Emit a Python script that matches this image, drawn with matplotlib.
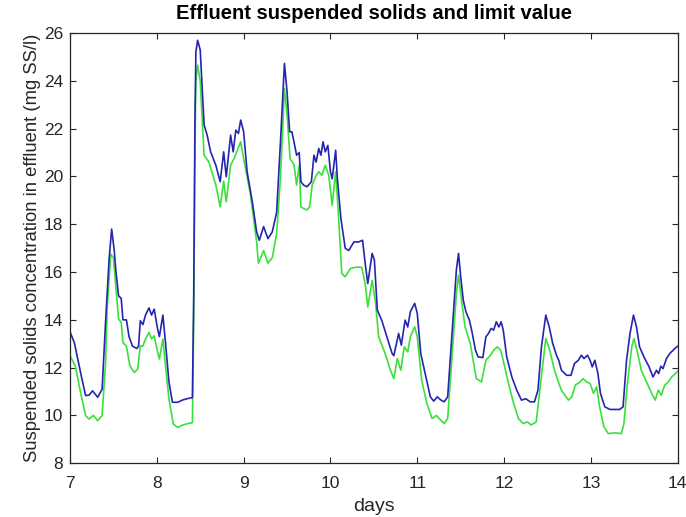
import matplotlib.pyplot as plt

# effluent suspended solids (blue) - days / mg SS/l
blue_days = [7.00, 7.05, 7.13, 7.18, 7.22, 7.26, 7.32, 7.37, 7.41, 7.45, 7.48, 7.51, 7.53, 7.56, 7.59,
             7.61, 7.65, 7.68, 7.72, 7.77, 7.79, 7.81, 7.84, 7.87, 7.91, 7.94, 7.97, 8.01, 8.03, 8.07,
             8.10, 8.14, 8.18, 8.24, 8.30, 8.35, 8.41, 8.425, 8.44, 8.45, 8.47, 8.50, 8.525, 8.545, 8.58,
             8.62, 8.68, 8.73, 8.77, 8.80, 8.85, 8.88, 8.91, 8.94, 8.966, 9.00, 9.04, 9.10, 9.15, 9.18,
             9.23, 9.28, 9.33, 9.38, 9.425, 9.47, 9.50, 9.53, 9.556, 9.58, 9.61, 9.64, 9.66, 9.69, 9.73,
             9.78, 9.81, 9.835, 9.865, 9.89, 9.915, 9.94, 9.97, 10.00, 10.02, 10.06, 10.08, 10.12, 10.17, 10.21,
             10.27, 10.325, 10.37, 10.40, 10.43, 10.48, 10.506, 10.54, 10.59, 10.65, 10.71, 10.73, 10.785, 10.816, 10.86,
             10.89, 10.92, 10.97, 11.00, 11.04, 11.09, 11.15, 11.19, 11.23, 11.27, 11.31, 11.35, 11.40, 11.45, 11.475,
             11.50, 11.53, 11.56, 11.60, 11.63, 11.67, 11.70, 11.755, 11.79, 11.82, 11.85, 11.88, 11.91, 11.94, 11.966,
             11.99, 12.03, 12.09, 12.145, 12.20, 12.25, 12.30, 12.35, 12.39, 12.43, 12.48, 12.52, 12.56, 12.605, 12.63,
             12.66, 12.72, 12.77, 12.81, 12.855, 12.89, 12.92, 12.96, 12.99, 13.015, 13.045, 13.08, 13.11, 13.16, 13.22,
             13.276, 13.33, 13.37, 13.41, 13.45, 13.49, 13.525, 13.56, 13.61, 13.67, 13.715, 13.755, 13.78, 13.805, 13.83,
             13.87, 13.91, 13.966, 14.00]
blue_ss = [13.5, 13.05, 11.66, 10.83, 10.85, 11.03, 10.76, 11.1, 13.9, 16.5, 17.8, 16.9, 16.0, 15.0, 14.9,
           14.0, 14.0, 13.3, 12.9, 12.8, 12.9, 13.96, 13.8, 14.2, 14.5, 14.2, 14.45, 13.6, 13.3, 14.2,
           13.05, 11.4, 10.55, 10.55, 10.65, 10.7, 10.75, 15.0, 22.5, 25.2, 25.7, 25.3, 23.5, 22.15, 21.73,
           21.03, 20.47, 19.78, 21.03, 19.99, 21.73, 21.03, 21.94, 21.8, 22.36, 21.87, 20.2, 18.94, 17.68, 17.33,
           17.9, 17.4, 17.68, 18.5, 21.5, 24.73, 23.54, 21.87, 21.87, 21.45, 20.89, 21.0, 19.78, 19.64, 19.57,
           19.78, 20.89, 20.6, 21.17, 20.89, 21.45, 21.03, 21.3, 20.2, 19.9, 21.1, 19.9, 18.25, 17.0, 16.9,
           17.26, 17.26, 17.33, 16.36, 15.52, 16.78, 16.5, 14.4, 13.99, 13.29, 12.59, 12.5, 13.43, 12.94, 13.99,
           13.7, 14.34, 14.69, 14.27, 12.59, 11.76, 10.78, 10.6, 10.78, 10.65, 10.57, 10.78, 13.43, 16.08, 16.78,
           15.8, 14.82, 14.34, 13.99, 13.5, 12.73, 12.45, 12.42, 13.29, 13.43, 13.64, 13.57, 13.92, 13.7, 13.92,
           13.57, 12.45, 11.6, 11.06, 10.64, 10.7, 10.57, 10.57, 11.06, 12.87, 14.2, 13.7, 13.01, 12.5, 12.3,
           11.89, 11.68, 11.68, 12.17, 12.31, 12.52, 12.38, 12.52, 12.31, 12.03, 12.31, 11.76, 10.92, 10.36, 10.25,
           10.25, 10.25, 10.36, 12.31, 13.43, 14.2, 13.7, 12.87, 12.45, 12.03, 11.61, 11.89, 11.75, 12.06, 11.96,
           12.38, 12.6, 12.8, 12.9]

# green series
green_days = [7.00, 7.06, 7.13, 7.18, 7.22, 7.27, 7.32, 7.37, 7.41, 7.43, 7.47, 7.50, 7.53, 7.56, 7.59,
              7.61, 7.65, 7.69, 7.74, 7.78, 7.81, 7.84, 7.87, 7.91, 7.94, 7.97, 8.01, 8.03, 8.07, 8.10,
              8.14, 8.19, 8.24, 8.30, 8.35, 8.41, 8.425, 8.44, 8.45, 8.47, 8.50, 8.525, 8.544, 8.60, 8.68,
              8.73, 8.77, 8.80, 8.85, 8.89, 8.92, 8.966, 9.00, 9.08, 9.15, 9.17, 9.23, 9.28, 9.33, 9.38,
              9.425, 9.47, 9.50, 9.535, 9.58, 9.61, 9.64, 9.66, 9.69, 9.73, 9.76, 9.79, 9.83, 9.865, 9.90,
              9.94, 9.98, 10.02, 10.06, 10.09, 10.13, 10.17, 10.23, 10.29, 10.36, 10.40, 10.43, 10.48, 10.52, 10.555,
              10.63, 10.69, 10.73, 10.77, 10.81, 10.85, 10.89, 10.92, 10.97, 11.00, 11.05, 11.11, 11.17, 11.22, 11.27,
              11.31, 11.35, 11.40, 11.45, 11.475, 11.51, 11.55, 11.61, 11.65, 11.68, 11.74, 11.79, 11.84, 11.88, 11.92,
              11.96, 11.99, 12.05, 12.11, 12.165, 12.22, 12.27, 12.31, 12.37, 12.42, 12.48, 12.525, 12.58, 12.63, 12.66,
              12.74, 12.78, 12.82, 12.875, 12.91, 12.95, 12.99, 13.03, 13.065, 13.10, 13.15, 13.20, 13.276, 13.35, 13.38,
              13.42, 13.47, 13.495, 13.53, 13.58, 13.64, 13.70, 13.74, 13.775, 13.81, 13.85, 13.89, 13.93, 14.00]
green_ss = [12.5, 12.08, 10.83, 9.99, 9.85, 10.0, 9.78, 10.0, 12.2, 14.6, 16.75, 16.6, 15.3, 14.03, 13.9,
            13.05, 12.9, 12.08, 11.8, 11.94, 12.9, 12.9, 13.2, 13.47, 13.2, 13.33, 12.64, 12.36, 13.2, 12.08,
            10.69, 9.64, 9.5, 9.6, 9.65, 9.7, 14.0, 21.5, 24.0, 24.66, 24.0, 22.2, 20.9, 20.6, 19.64,
            18.73, 19.8, 18.94, 20.47, 20.75, 21.03, 21.45, 20.75, 19.22, 17.26, 16.37, 16.9, 16.37, 16.6, 17.6,
            20.0, 23.68, 22.6, 20.75, 20.5, 19.64, 20.47, 18.73, 18.66, 18.6, 18.73, 19.64, 20.0, 20.2, 20.05,
            20.47, 20.05, 18.8, 20.2, 18.52, 15.94, 15.8, 16.15, 16.2, 16.2, 15.52, 14.54, 15.66, 14.69, 13.29,
            12.59, 11.89, 11.54, 12.38, 11.89, 12.87, 12.66, 13.29, 13.71, 13.29, 11.48, 10.5, 9.87, 10.0, 9.8,
            9.66, 9.87, 12.45, 15.1, 15.87, 14.82, 13.71, 13.01, 12.17, 11.54, 11.4, 12.31, 12.5, 12.73, 12.87,
            12.73, 12.3, 11.34, 10.5, 9.87, 9.66, 9.73, 9.6, 9.73, 11.34, 13.22, 12.73, 11.89, 11.34, 11.06,
            10.64, 10.78, 11.27, 11.4, 11.54, 11.4, 11.34, 10.92, 11.2, 10.36, 9.52, 9.24, 9.27, 9.24, 9.66,
            11.34, 12.87, 13.22, 12.73, 11.89, 11.4, 10.92, 10.64, 11.06, 10.85, 11.27, 11.4, 11.61, 11.85]

x_ticks = [7, 8, 9, 10, 11, 12, 13, 14]
y_ticks = [8, 10, 12, 14, 16, 18, 20, 22, 24, 26]

plt.rcParams['font.family'] = ['Liberation Sans', 'DejaVu Sans']
grey = '#262626'

fig = plt.figure(figsize=(6.86, 5.17), dpi=100)
ax = fig.add_axes([0.102, 0.104, 0.886, 0.832])

ax.plot(green_days, green_ss, color='#3be03b', linewidth=1.2)
ax.plot(blue_days, blue_ss, color='#2525b0', linewidth=1.2)

ax.set_xlim(7, 14)
ax.set_ylim(8, 26)
ax.set_xticks(x_ticks)
ax.set_yticks(y_ticks)
ax.tick_params(direction='in', top=True, right=True, length=4, width=0.8,
               colors=grey, labelsize=12.5, labelcolor=grey)
ax.tick_params(axis='x', pad=9)
ax.tick_params(axis='y', pad=5)
for s in ax.spines.values():
    s.set_color(grey)
    s.set_linewidth(0.9)

ax.set_title('Effluent suspended solids and limit value', fontsize=14.5, fontweight='bold', pad=10)
ax.set_xlabel('days', fontsize=14, color=grey, labelpad=5)
ax.set_ylabel('Suspended solids concentration in effluent (mg SS/l)', fontsize=13.3, color=grey, labelpad=2)

plt.savefig('out.png', dpi=100)
